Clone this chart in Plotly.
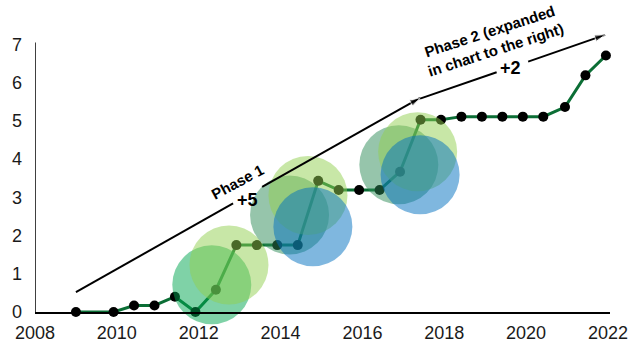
"""Two-phase step chart with translucent bubbles, Plotly version."""

import plotly.graph_objects as go

# main series (year, value)
years = [2009.0, 2009.92, 2010.42, 2010.92, 2011.42, 2011.92, 2012.42, 2012.92,
         2013.42, 2013.92, 2014.42, 2014.92, 2015.42, 2015.92, 2016.42, 2016.92,
         2017.42, 2017.92, 2018.42, 2018.92, 2019.42, 2019.92, 2020.42, 2020.95,
         2021.45, 2021.95]
values = [0.0, 0.0, 0.17, 0.17, 0.4, 0.0, 0.58, 1.75,
          1.75, 1.75, 1.75, 3.43, 3.19, 3.19, 3.19, 3.67,
          5.03, 5.03, 5.11, 5.11, 5.11, 5.11, 5.11, 5.36,
          6.19, 6.71]

# translucent bubbles, in drawing order
bubble_x = [2012.32, 2012.74, 2014.22, 2014.67, 2014.79, 2016.89, 2017.35, 2017.41]
bubble_y = [0.71, 1.23, 2.54, 3.05, 2.23, 3.85, 4.19, 3.59]
bubble_colors = ["rgba(0,166,80,0.5)", "rgba(146,208,80,0.5)", "rgba(46,139,87,0.5)",
                 "rgba(146,208,80,0.5)", "rgba(0,112,192,0.5)", "rgba(46,139,87,0.5)",
                 "rgba(146,208,80,0.5)", "rgba(0,112,192,0.5)"]

# arrows: start, gap start, gap end, end
phase1_x = [2009.0, 2012.84, 2013.55, 2017.41]
phase1_y = [0.52, 2.84, 3.27, 5.6]
phase2_x = [2017.41, 2019.28, 2020.05, 2021.93]
phase2_y = [5.58, 6.27, 6.55, 7.25]

tick_years = [2008, 2010, 2012, 2014, 2016, 2018, 2020, 2022]
tick_values = [0, 1, 2, 3, 4, 5, 6, 7]

FONT = "Liberation Sans, Arial, sans-serif"

fig = go.Figure()

fig.add_trace(go.Scatter(
    x=years, y=values, mode="lines+markers",
    line=dict(color="#0b6e35", width=3),
    marker=dict(color="black", size=10),
    cliponaxis=False, hoverinfo="skip",
))

for px_, py_, col in zip(bubble_x, bubble_y, bubble_colors):
    fig.add_trace(go.Scatter(
        x=[px_], y=[py_], mode="markers",
        marker=dict(color=col, size=79, line=dict(width=0)),
        cliponaxis=False, hoverinfo="skip",
    ))


def add_arrow(xs, ys):
    # two segments with a gap for the label, arrowhead at the end
    fig.add_trace(go.Scatter(
        x=xs[:2] + [None] + xs[2:], y=ys[:2] + [None] + ys[2:], mode="lines",
        line=dict(color="black", width=2), hoverinfo="skip",
    ))
    fig.add_trace(go.Scatter(
        x=xs[2:], y=ys[2:], mode="markers",
        marker=dict(symbol="arrow", angleref="previous", size=[0, 11], color="black"),
        cliponaxis=False, hoverinfo="skip",
    ))


add_arrow(phase1_x, phase1_y)
add_arrow(phase2_x, phase2_y)

fig.add_shape(type="line", x0=2008, x1=2008, y0=0, y1=7.05,
              line=dict(color="black", width=1.5), layer="above")

fig.add_annotation(x=2012.96, y=3.42, text="<b>Phase 1</b>", textangle=-28,
                   showarrow=False, font=dict(size=15, color="black", family=FONT))
fig.add_annotation(x=2013.2, y=2.93, text="<b>+5</b>", showarrow=False,
                   font=dict(size=18, color="black", family=FONT))
fig.add_annotation(x=2019.2, y=7.1, text="<b>Phase 2 (expanded<br>in chart to the right)</b>",
                   textangle=-18, showarrow=False,
                   font=dict(size=15, color="black", family=FONT))
fig.add_annotation(x=2019.62, y=6.38, text="<b>+2</b>", showarrow=False,
                   font=dict(size=18, color="black", family=FONT))

fig.update_layout(
    width=629, height=345,
    margin=dict(l=35, r=19, t=31, b=33),
    paper_bgcolor="white", plot_bgcolor="white",
    showlegend=False,
    font=dict(family=FONT, size=18, color="#1a1a1a"),
    xaxis=dict(range=[2008, 2022.05], tickvals=tick_years, showgrid=False, zeroline=False,
               showline=True, linecolor="black", linewidth=1.5, ticks="",
               ticklabelstandoff=4, automargin=False),
    yaxis=dict(range=[0, 7.35], tickvals=tick_values, showgrid=False, zeroline=False,
               showline=False, ticks="", ticklabelstandoff=12, automargin=False),
)

# page body has a default margin; drop it so the figure fills the window
fig.write_html("out.html", config={"displayModeBar": False},
               post_script="document.body.style.margin='0';")
